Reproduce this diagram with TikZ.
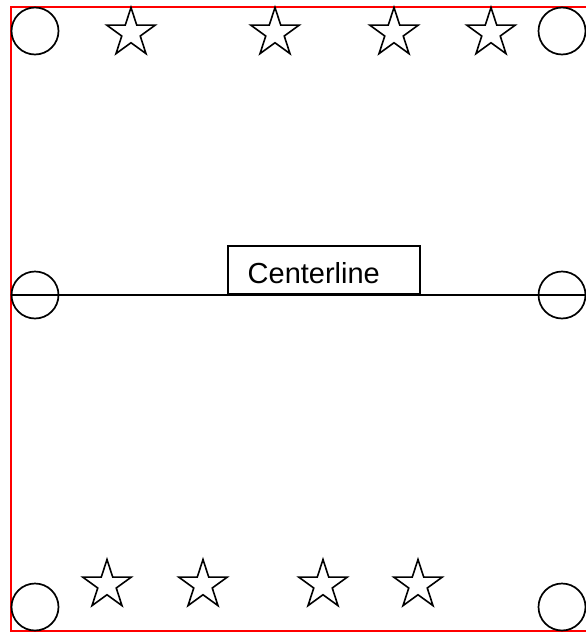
\documentclass[tikz,border=0pt]{standalone}
\usepackage{fontspec}
\setmainfont{Liberation Sans}
\usetikzlibrary{shapes.geometric}

\begin{document}
\begin{tikzpicture}[x=1pt,y=-1pt]
\tikzset{
    post/.style={%
        draw=black, line width=1.7pt,
        circle,
        inner sep=0pt,
        minimum size=47pt
        },
    starmark/.style={%
        draw=black, line width=1.6pt,
        star, star points=5,
        star point ratio=2.618,
        inner sep=0pt,
        minimum size=51pt
        },
}
\clip (0,0) rectangle (586,632);
%%%BORDER
\draw[red, line width=1.8pt] (11,7) rectangle (600,631);
%%%POSTS
\node[post] (tl) at (35,31) {};
\node[post] (tr) at (562,31) {};
\node[post] (ml) at (35,295) {};
\node[post] (mr) at (562,295) {};
\node[post] (bl) at (35,607) {};
\node[post] (br) at (562,607) {};
%%%STARS
\foreach \x [count=\i] in {131,275,394,491}
    \node[starmark] (top\i) at (\x,33) {};
\foreach \x [count=\i] in {107,203,323,418}
    \node[starmark] (bot\i) at (\x,585) {};
%%%CENTERLINE
\draw[line width=1.7pt] (ml.west) -- (mr.east);
\node[draw, line width=1.7pt, rectangle, minimum width=192pt,
      minimum height=48pt, inner sep=0pt, anchor=south west]
      (clbox) at (227,295) {};
\node[anchor=base west, inner sep=0pt, font=\fontsize{29}{35}\selectfont]
      (cltext) at (247.5,283) {Centerline};
\end{tikzpicture}
\end{document}
